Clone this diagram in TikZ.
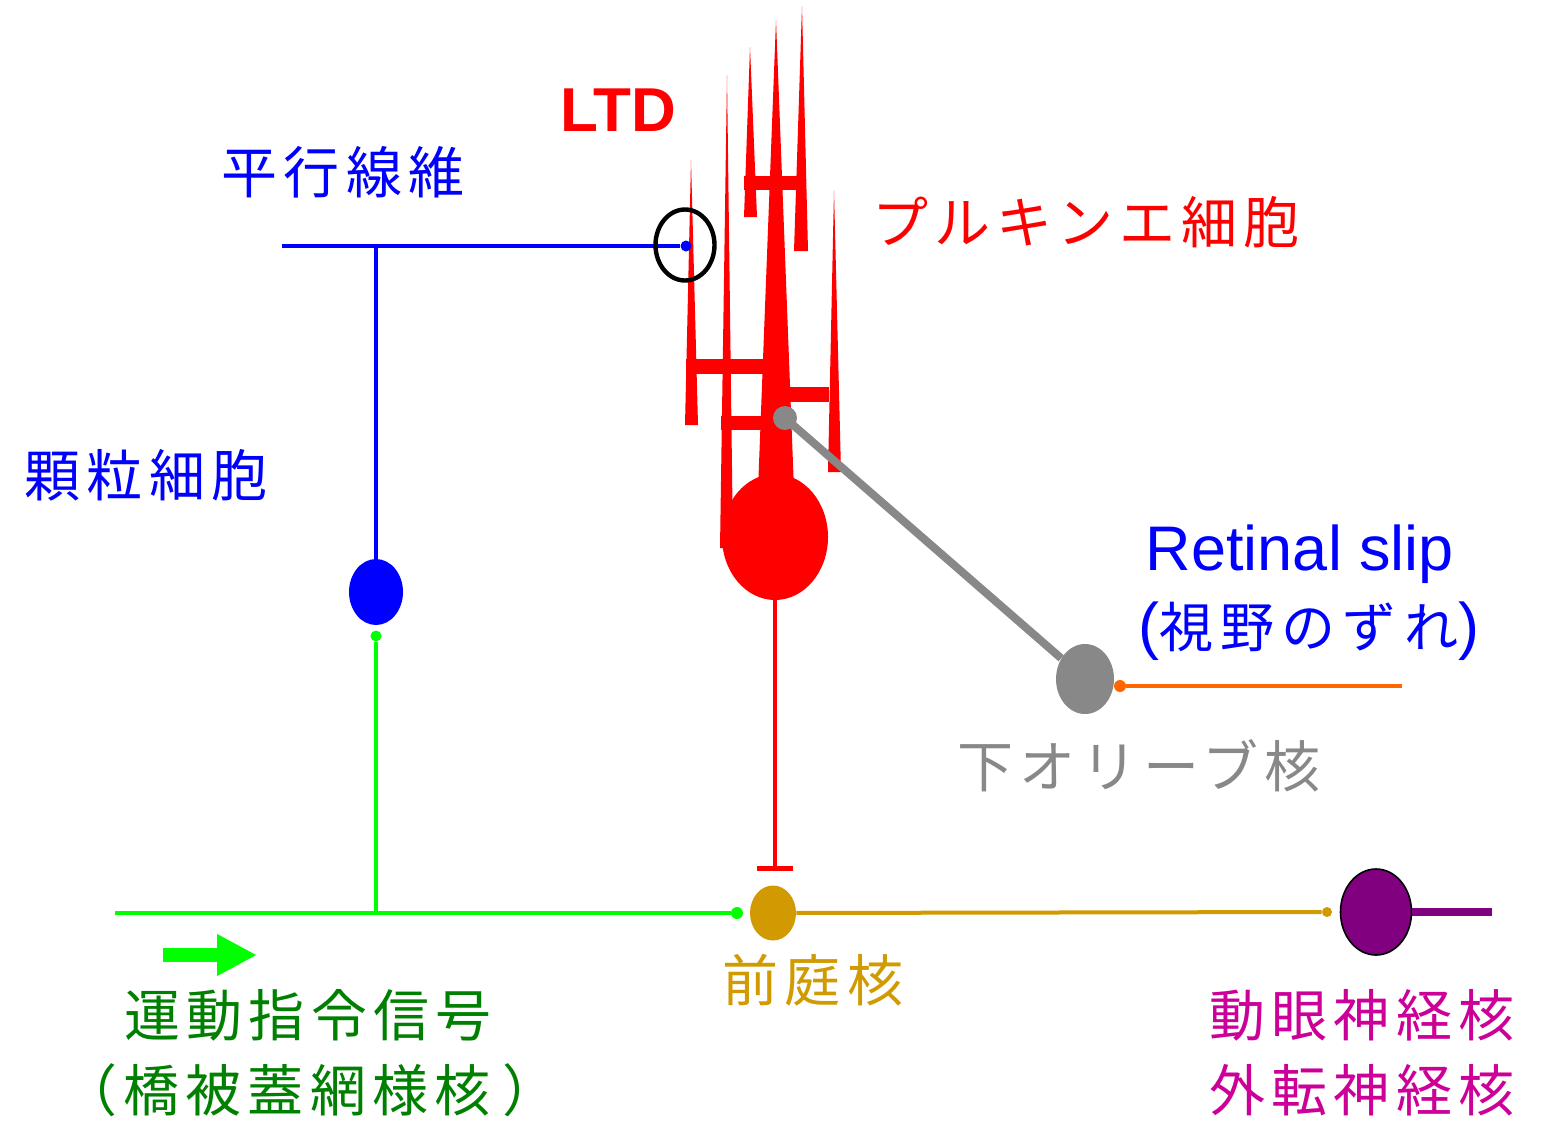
\documentclass[tikz,border=0pt]{standalone}
\usepackage{fontspec}
\usetikzlibrary{shapes.geometric,arrows.meta}

\newfontfamily\kaifont[LetterSpace=11]{Noto Sans CJK JP}
\newfontfamily\gothfont[LetterSpace=13]{Noto Sans CJK JP}
\newfontfamily\arialfont{Liberation Sans}

\definecolor{mossgreen}{HTML}{00FF00}
\definecolor{cmdgreen}{HTML}{008000}
\definecolor{vestgold}{HTML}{D09A00}
\definecolor{olivegray}{HTML}{888888}
\definecolor{visorange}{HTML}{FF6600}
\definecolor{ocupurple}{HTML}{800080}
\definecolor{nucmagenta}{HTML}{CC0099}

\begin{document}
\begin{tikzpicture}[
    x=0.5pt, y=-0.5pt,
    cell/.style={ellipse, inner sep=0pt},
    dot/.style={circle, inner sep=0pt, minimum size=#1},
    fiber/.style={line width=2pt},
    jtext/.style={inner sep=0pt, font=\kaifont\fontsize{28pt}{30pt}\selectfont},
    etext/.style={inner sep=0pt, font=\arialfont\fontsize{31.5pt}{34pt}\selectfont}
]
  \useasboundingbox (0,0) rectangle (1552,1120);

  % Purkinje cell: dendrite spikes
  \fill[red] (691,160) -- (698,425) -- (685,425) -- cycle;
  \fill[red] (727,75)  -- (733,548) -- (720,548) -- cycle;
  \fill[red] (750,47)  -- (757,217) -- (744,217) -- cycle;
  \fill[red] (776,20)  -- (794,490) -- (758,490) -- cycle;
  \fill[red] (802,6)   -- (808,251) -- (794,251) -- cycle;
  \fill[red] (834,190) -- (841,472) -- (828,472) -- cycle;
  % cross branches
  \fill[red] (744,176) rectangle (800,190);
  \fill[red] (686,359) rectangle (764,374);
  \fill[red] (790,387) rectangle (829,402);
  \fill[red] (721,416) rectangle (761,430);
  % soma
  \node[cell, fill=red, minimum width=53pt, minimum height=63pt] (purk) at (775,537) {};

  % vestibular nucleus and inhibitory axon
  \node[cell, fill=vestgold, minimum width=23pt, minimum height=27.5pt] (vest) at (773,913) {};
  \draw[red, line width=2pt, -{Bar[width=18pt, line width=2.75pt]}, shorten >=7pt]
    (purk.south) -- (purk.south |- vest.north);

  % mossy fibre input
  \node[dot=6pt, fill=mossgreen] (vdot) at (737,913) {};
  \node[dot=5.5pt, fill=mossgreen] (mfdot) at (376,636) {};
  \coordinate (mfin) at (115,913);
  \draw[fiber, mossgreen] (mfin) -- (vdot);
  \draw[fiber, mossgreen] (mfdot) -- (mfdot |- mfin);

  % granule cell and parallel fibre
  \node[cell, fill=blue, minimum width=27pt, minimum height=33pt] (gran) at (376,592) {};
  \node[dot=5.5pt, fill=blue] (pfdot) at (686,246) {};
  \coordinate (pfin) at (282,246);
  \draw[fiber, blue] (pfin) -- (pfdot);
  \draw[fiber, blue] (gran) -- (gran |- pfin);
  \node[draw, ellipse, line width=2.2pt, inner sep=0pt,
        minimum width=29.5pt, minimum height=35.5pt] (ltdring) at (685,245) {};

  % inferior olive and climbing fibre
  \node[cell, fill=olivegray, minimum width=29pt, minimum height=35pt] (olive) at (1085,679) {};
  \node[dot=12pt, fill=olivegray] (cfdot) at (785,418) {};
  \draw[olivegray, line width=4pt] (cfdot.center) -- (olive);
  \node[dot=6pt, fill=visorange] (visdot) at (1120,686) {};
  \coordinate (visin) at (1402,686);
  \draw[fiber, visorange] (visdot) -- (visin);

  % motor nuclei output
  \node[cell, fill=ocupurple, draw=black, line width=0.8pt,
        minimum width=35.5pt, minimum height=43pt] (ocul) at (1376,912) {};
  \node[dot=5pt, fill=vestgold] (vgdot) at (1327,912) {};
  \draw[fiber, vestgold] (vest) -- (vgdot);
  \coordinate (motout) at (1492,912);
  \draw[ocupurple, line width=4pt] (ocul.east) -- (motout);

  % direction of the motor command
  \coordinate (cmdtail) at (163,955);
  \coordinate (cmdhead) at (257,955);
  \draw[mossgreen, line width=7pt, -{Triangle[length=20pt, width=19.5pt]}] (cmdtail) -- (cmdhead);

  % labels
  \node[inner sep=0pt, font=\arialfont\bfseries\fontsize{31pt}{34pt}\selectfont,
        text=red, anchor=base] (ltd) at (618,131) {LTD};
  \node[jtext, text=blue] (pflabel) at (343,172) {平行線維};
  \node[jtext, text=red] (purklabel) at (1086,222) {プルキンエ細胞};
  \node[jtext, text=blue] (granlabel) at (146,475) {顆粒細胞};
  \node[etext, text=blue, anchor=base] (sliplabel) at (1300,570) {Retinal slip};
  \node[etext, text=blue, anchor=base] (slipjp) at (1309,647)
    {(\gothfont\fontsize{27pt}{30pt}\selectfont 視野のずれ\arialfont\fontsize{31.5pt}{34pt}\selectfont)};
  \node[jtext, text=olivegray] (olivelabel) at (1139,766) {下オリーブ核};
  \node[jtext, text=vestgold] (vestlabel) at (813,980) {前庭核};
  \node[jtext, text=cmdgreen] (cmdlabel) at (308,1015) {運動指令信号};
  \node[jtext, text=cmdgreen] (cmdsrc) at (310,1090) {（\hspace{3pt}橋被蓋網様核\hspace{6pt}）};
  \node[jtext, text=nucmagenta] (ocullabel) at (1362,1015) {動眼神経核};
  \node[jtext, text=nucmagenta] (abdlabel) at (1362,1090) {外転神経核};
\end{tikzpicture}
\end{document}
